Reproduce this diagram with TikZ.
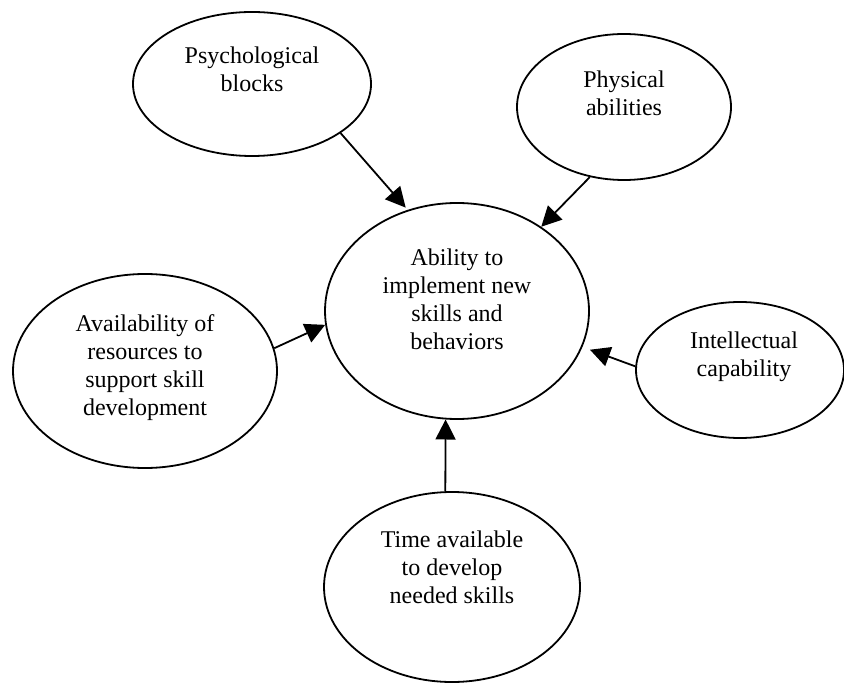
\documentclass[tikz,border=0pt]{standalone}
\usepackage{fontspec}
\setmainfont{Liberation Serif}
\usetikzlibrary{arrows.meta,shapes.geometric}

\begin{document}
\begin{tikzpicture}[x=0.5pt, y=-0.5pt,
    bubble/.style={draw, ellipse, line width=0.9pt, inner sep=0pt},
    txt/.style={align=center, inner sep=0pt, font=\fontsize{12}{14}\selectfont},
    feed/.style={line width=0.9pt, -{Triangle[length=10pt, width=10pt]}}]
  \useasboundingbox (0,0) rectangle (844,683);
  % the six ellipses
  \node[bubble, minimum width=119pt, minimum height=72pt] (psych) at (252,84) {};
  \node[bubble, minimum width=107pt, minimum height=73pt] (phys) at (624,107) {};
  \node[bubble, minimum width=132pt, minimum height=108pt] (main) at (457,311) {};
  \node[bubble, minimum width=132pt, minimum height=97pt] (avail) at (145,371) {};
  \node[bubble, minimum width=104pt, minimum height=68pt] (intel) at (740,370) {};
  \node[bubble, minimum width=128pt, minimum height=95pt] (time) at (452,587) {};
  % texts, set high in each ellipse
  \node[txt] (psychtxt) at (252,69) {Psychological\\blocks};
  \node[txt] (phystxt) at (624,93) {Physical\\abilities};
  \node[txt] (maintxt) at (457,299) {Ability to\\implement new\\skills and\\behaviors};
  \node[txt] (availtxt) at (145,368) {Availability of\\resources to\\support skill\\development};
  \node[txt] (inteltxt) at (744,357) {Intellectual\\capability};
  \node[txt] (timetxt) at (452,567) {Time available\\to develop\\needed skills};
  % arrows into the central ellipse
  \draw[feed, shorten >=1.5pt] (psych.-29) -- (main.116);
  \draw[feed] (phys.244) -- (main.45);
  \draw[feed] (avail.10) -- (main.186);
  \draw[feed, shorten >=4pt] (intel.178) -- (main.-16);
  \draw[feed] (time.94) -- (main.-96);
\end{tikzpicture}
\end{document}
